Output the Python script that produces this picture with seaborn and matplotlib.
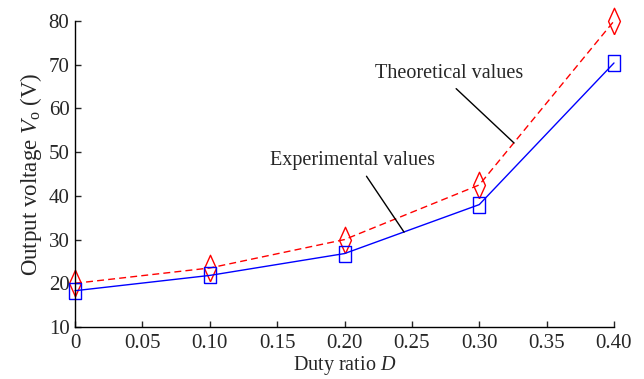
import matplotlib
matplotlib.use("Agg")
import matplotlib.pyplot as plt
import seaborn as sns
import pandas as pd

duty = [0.0, 0.10, 0.20, 0.30, 0.40]
theoretical = [20.0, 23.5, 30.0, 42.5, 80.0]
experimental = [18.3, 21.8, 26.8, 38.0, 70.4]
x_ticks = [0, 0.05, 0.10, 0.15, 0.20, 0.25, 0.30, 0.35, 0.40]
x_tick_labels = ["0", "0.05", "0.10", "0.15", "0.20", "0.25", "0.30", "0.35", "0.40"]
y_ticks = [10, 20, 30, 40, 50, 60, 70, 80]

sns.set_style("ticks")
plt.rcParams["font.family"] = ["Liberation Serif", "DejaVu Serif"]
plt.rcParams["mathtext.fontset"] = "custom"
plt.rcParams["mathtext.rm"] = "Liberation Serif"
plt.rcParams["mathtext.it"] = "Liberation Serif:italic"
plt.rcParams["xtick.direction"] = "in"
plt.rcParams["ytick.direction"] = "in"

df = pd.DataFrame({"D": duty, "Theoretical": theoretical, "Experimental": experimental})

diamond = [(0, -1), (0.45, 0), (0, 1), (-0.45, 0), (0, -1)]
rect = [(-0.33, -0.5), (0.33, -0.5), (0.33, 0.5), (-0.33, 0.5), (-0.33, -0.5)]

fig = plt.figure(figsize=(6.44, 3.79), dpi=100)
ax = fig.add_axes([0.1165, 0.1372, 0.8369, 0.8074])

sns.lineplot(data=df, x="D", y="Theoretical", ax=ax, color="#ff0000",
             marker=diamond, markersize=19, markerfacecolor="none",
             markeredgecolor="#ff0000", markeredgewidth=1.0, linewidth=1.0)
ax.lines[-1].set_dashes([5, 3])
sns.lineplot(data=df, x="D", y="Experimental", ax=ax, color="#0000ff", linestyle="-",
             marker=rect, markersize=12, markerfacecolor="none",
             markeredgecolor="#0000ff", markeredgewidth=1.0, linewidth=1.0)
for ln in ax.lines:
    ln.set_clip_on(False)

ax.set_xlim(0, 0.40)
ax.set_ylim(10, 80)
ax.set_xticks(x_ticks)
ax.set_xticklabels(x_tick_labels)
ax.set_yticks(y_ticks)
ax.tick_params(axis="both", labelsize=15, length=4, width=1)
ax.tick_params(axis="x", pad=5)
ax.tick_params(axis="y", pad=4)
for s in ["top", "right"]:
    ax.spines[s].set_visible(False)
for s in ["left", "bottom"]:
    ax.spines[s].set_linewidth(1.0)
    ax.spines[s].set_color("black")

ax.set_xlabel("Duty ratio $D$", fontsize=14.5, labelpad=0.5)
ax.set_ylabel("Output voltage $V_{\\mathrm{o}}$ (V)", fontsize=16.5, labelpad=3)

ax.annotate("Theoretical values", xy=(0.3258, 52.1), xytext=(0.278, 68.1),
            ha="center", va="center", fontsize=14.5,
            arrowprops=dict(arrowstyle="-", color="black", lw=1.0,
                            relpos=(0.5, 0), shrinkA=3, shrinkB=0))
ax.annotate("Experimental values", xy=(0.2442, 31.7), xytext=(0.2056, 48.2),
            ha="center", va="center", fontsize=14.5,
            arrowprops=dict(arrowstyle="-", color="black", lw=1.0,
                            relpos=(0.56, 0), shrinkA=3, shrinkB=0))

fig.savefig("out.png", dpi=100)
